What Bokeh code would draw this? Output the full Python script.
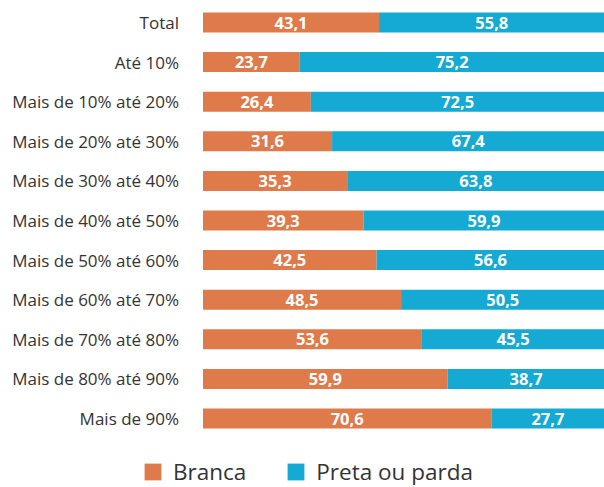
from bokeh.plotting import figure
from bokeh.models import Range1d, Legend, LegendItem, ColumnDataSource
from bokeh.core.properties import value
from bokeh.embed import file_html
from bokeh.resources import INLINE

categories = ["Total", "Até 10%", "Mais de 10% até 20%", "Mais de 20% até 30%",
              "Mais de 30% até 40%", "Mais de 40% até 50%", "Mais de 50% até 60%",
              "Mais de 60% até 70%", "Mais de 70% até 80%", "Mais de 80% até 90%",
              "Mais de 90%"]
branca = [43.1, 23.7, 26.4, 31.6, 35.3, 39.3, 42.5, 48.5, 53.6, 59.9, 70.6]
preta = [55.8, 75.2, 72.5, 67.4, 63.8, 59.9, 56.6, 50.5, 45.5, 38.7, 27.7]
series_names = ["Branca", "Preta ou parda"]

ORANGE = "#DF7A4A"
BLUE = "#14AAD4"
TEXT = "#333333"
FONT = "Open Sans"

XMAX = 98.3
W, H = 604, 487
LEFT_PX = 202.5          # pixel where value 0 sits
PX_PER_UNIT = (W - LEFT_PX) / XMAX
ROW = 39.6
y_top = -22 / ROW
y_bot = y_top + H / ROW

ys = list(range(len(categories)))
ends = [b + q for b, q in zip(branca, preta)]
src = ColumnDataSource(dict(
    y=ys, b=branca, e=ends, cat=categories,
    bx=[b / 2 for b in branca],
    px=[(b + min(e, XMAX)) / 2 for b, e in zip(branca, ends)],
    bl=[f"{v:.1f}".replace(".", ",") for v in branca],
    pl=[f"{v:.1f}".replace(".", ",") for v in preta],
))

p = figure(width=W, height=H, output_backend="svg", toolbar_location=None,
           x_range=Range1d(-LEFT_PX / PX_PER_UNIT, XMAX), y_range=Range1d(y_bot, y_top),
           min_border=0)
p.outline_line_color = None
p.xgrid.visible = False
p.ygrid.visible = False
p.axis.visible = False

r1 = p.hbar(y="y", left=0, right="b", height=0.505, color=ORANGE, line_color=None, source=src)
r2 = p.hbar(y="y", left="b", right="e", height=0.505, color=BLUE, line_color=None, source=src)

for col_x, col_t in (("bx", "bl"), ("px", "pl")):
    p.text(x=col_x, y="y", text=col_t, source=src, text_align="center",
           text_baseline="middle", text_color="white", text_font=value(FONT),
           text_font_style="bold", text_font_size="16.5px")

# category labels (left of the bars)
p.text(x=0, y="y", text="cat", source=src, x_offset=-24, text_align="right",
       text_baseline="middle", text_color=TEXT, text_font=value(FONT),
       text_font_size="17px")

legend = Legend(items=[LegendItem(label=series_names[0], renderers=[r1]),
                       LegendItem(label=series_names[1], renderers=[r2])],
                orientation="horizontal", location=(142, 0),
                glyph_width=21, glyph_height=21, label_standoff=10, spacing=39,
                padding=0, margin=0, border_line_color=None,
                background_fill_alpha=0,
                label_text_font=FONT, label_text_font_size="22.5px",
                label_text_color=TEXT)
p.add_layout(legend, "center")

open("out.html", "w").write(file_html(p, INLINE))
